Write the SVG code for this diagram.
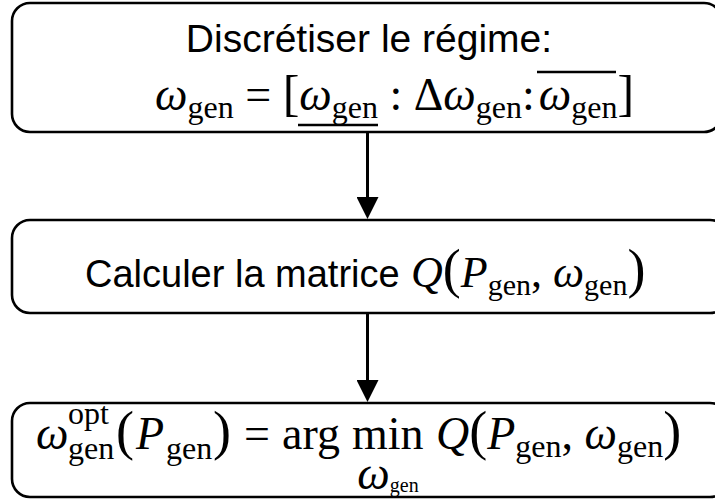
<svg xmlns="http://www.w3.org/2000/svg" width="715" height="500" viewBox="0 0 715 500">
<defs>
<style>
.box{fill:#fff;stroke:#000;stroke-width:2.6}
.t{font-family:"Liberation Sans",Arial,sans-serif;font-size:39px;fill:#000}
.t2{font-size:38px}
.m{font-family:"Liberation Serif","Times New Roman",serif;font-size:46px;fill:#000}
.m2{font-size:44px}
.i{font-style:italic}
.s{font-size:32px}
.s2{font-size:30px}
.p{font-size:54px}
.conn{stroke:#000;stroke-width:3;fill:none}
.bar{stroke:#000;stroke-width:2.6}
</style>
<marker id="ah" viewBox="0 0 22 22" markerWidth="22" markerHeight="22" refX="12" refY="11" orient="auto" markerUnits="userSpaceOnUse">
<path d="M0,0 L22,11 L0,22 z" fill="#000"/>
</marker>
</defs>
<rect width="715" height="500" fill="#fff"/>
<g id="connectors">
<line class="conn" x1="367.5" y1="132" x2="367.5" y2="209" marker-end="url(#ah)"/>
<line class="conn" x1="367.5" y1="313" x2="367.5" y2="392" marker-end="url(#ah)"/>
</g>
<g id="node-discretiser">
<rect class="box" x="12" y="3" width="710" height="129" rx="18"/>
<text class="t" x="369" y="52" text-anchor="middle">Discrétiser le régime:</text>
<text class="m" x="155" y="110"><tspan class="i">ω</tspan><tspan class="s" dy="8">gen</tspan><tspan dy="-8"> = </tspan><tspan font-size="50">[</tspan><tspan class="i">ω</tspan><tspan class="s" dy="8">gen</tspan><tspan dy="-8"> : Δ</tspan><tspan class="i">ω</tspan><tspan class="s" dy="8">gen</tspan><tspan dy="-8">:</tspan><tspan class="i" dx="4">ω</tspan><tspan class="s" dy="8">gen</tspan><tspan font-size="50" dy="-8">]</tspan></text>
<line class="bar" x1="298" y1="125" x2="378" y2="125"/>
<line class="bar" x1="537" y1="72" x2="616" y2="72"/>
</g>
<g id="node-matrice">
<rect class="box" x="12" y="220" width="716" height="93" rx="18"/>
<text class="t t2" x="85" y="287">Calculer la matrice</text>
<text class="m m2" x="411" y="287"><tspan class="i">Q</tspan><tspan class="p">(</tspan><tspan class="i">P</tspan><tspan class="s2" dy="8">gen</tspan><tspan dy="-8">, </tspan><tspan class="i">ω</tspan><tspan class="s2" dy="8">gen</tspan><tspan class="p" dy="-8">)</tspan></text>
</g>
<g id="node-argmin">
<rect class="box" x="12" y="403" width="716" height="94" rx="18"/>
<text class="m i" x="36" y="449">ω</text>
<text class="m s" x="68" y="424">opt</text>
<text class="m s" x="68" y="459">gen</text>
<text class="m p" x="116" y="449">(</text>
<text class="m i" x="136" y="449">P</text>
<text class="m s" x="166" y="459">gen</text>
<text class="m p" x="213" y="449">)</text>
<text class="m" x="244" y="449">=</text>
<text class="m" x="282" y="449">arg</text>
<text class="m" x="352" y="449">min</text>
<text class="m" x="388" y="489" text-anchor="middle" font-size="26"><tspan class="i">ω</tspan><tspan font-size="20" dy="3">gen</tspan></text>
<text class="m" x="436" y="449"><tspan class="i">Q</tspan><tspan class="p">(</tspan><tspan class="i">P</tspan><tspan class="s" dy="8">gen</tspan><tspan dy="-8">, </tspan><tspan class="i">ω</tspan><tspan class="s" dy="8">gen</tspan><tspan class="p" dy="-8">)</tspan></text>
</g>
</svg>
